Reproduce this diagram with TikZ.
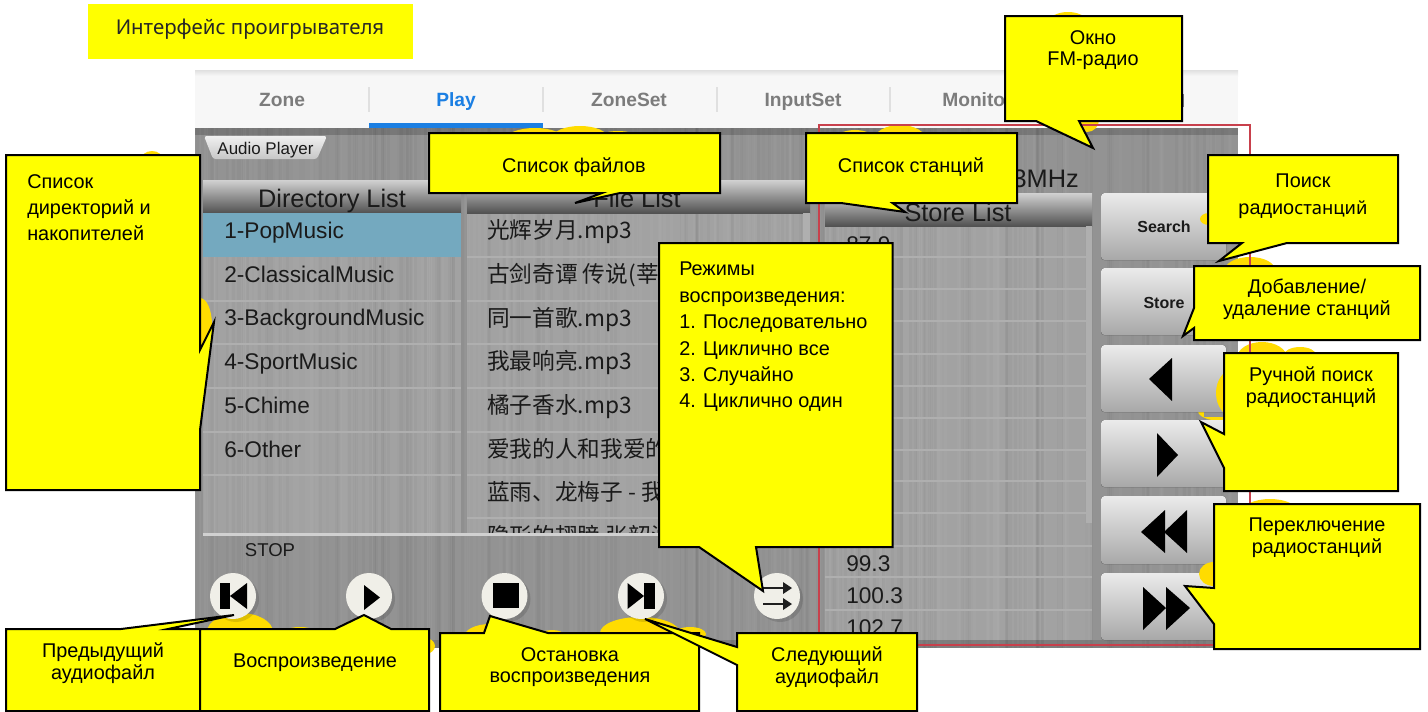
\documentclass[tikz,border=0pt]{standalone}
\usepackage{fontspec}
\setmainfont{Liberation Sans}
\newfontfamily\cjk{Noto Sans CJK SC}
\newfontfamily\thinfont{Noto Sans}
\definecolor{cyellow}{RGB}{255,255,0}
\definecolor{gold}{RGB}{255,220,0}
\definecolor{metal}{HTML}{939393}
\definecolor{listgrey}{HTML}{A2A2A2}
\definecolor{rowline}{HTML}{AFAFAF}
\definecolor{tabgrey}{HTML}{7C7C7C}
\definecolor{playblue}{HTML}{1B7FE3}
\definecolor{dark}{HTML}{1A1A1A}
\definecolor{selblue}{HTML}{74A9BF}
\definecolor{framered}{HTML}{C8404C}
\definecolor{btnface}{HTML}{F0EFE8}
\tikzset{
  x=0.75pt,y=-0.75pt,
  callout/.style={draw=black,line width=1.5pt,fill=cyellow,line join=miter},
  calltext/.style={inner sep=0,align=center,text=black,font=\fontsize{14.9}{16.3}\selectfont},
  tabtext/.style={inner sep=0,text=tabgrey,text height=10.3pt,text depth=0pt,font=\fontsize{14.4}{16}\selectfont\bfseries},
  listtext/.style={inner sep=0,anchor=west,text=dark,text height=12.2pt,text depth=0pt,font=\fontsize{17}{20}\selectfont},
  cjktext/.style={inner sep=0,anchor=west,text=dark,text height=12.2pt,text depth=0pt,font=\fontsize{17}{20}\selectfont\cjk},
  headtext/.style={inner sep=0,text=dark,text height=13.7pt,text depth=0pt,font=\fontsize{19}{22}\selectfont},
  header/.style={top color=black!18,bottom color=black!68},
  keybtn/.style={top color=black!8,bottom color=black!34,rounded corners=2.5pt},
  blob/.style={fill=gold},
  rowrule/.style={draw=rowline,line width=0.8pt},
  glyph/.style={fill=black},
}
\begin{document}
\begin{tikzpicture}
\useasboundingbox (0,0) rectangle (1428,711);
\fill[white] (0,0) rectangle (1428,711);
% title
\fill[cyellow] (88,4) rectangle (413,59);
\node[inner sep=0,text=black!85,text height=11pt,text depth=0pt,font=\fontsize{15.3}{18}\selectfont\thinfont] (title) at (250,27) {Интерфейс проигрывателя};
% application frame
\shade[top color=black!12,bottom color=black!3] (195,70) rectangle (1238,76);
\fill[black!3] (195,76) rectangle (1238,128);
\fill[metal] (195,128) rectangle (1238,648);
\fill[listgrey] (203,213) rectangle (461,533);
\fill[listgrey] (467,213) rectangle (810,533);
\fill[listgrey] (825,226) rectangle (1092,640);
\begin{scope}
  \clip (195,128) rectangle (1238,648);
  \pgfmathsetseed{11}
  \foreach \i in {1,...,170}{
    \pgfmathsetmacro\xx{195+rnd*1043}
    \fill[black,opacity=0.022] (\xx,128) rectangle (\xx+3,648);
  }
  \foreach \i in {1,...,170}{
    \pgfmathsetmacro\xx{195+rnd*1043}
    \fill[white,opacity=0.022] (\xx,128) rectangle (\xx+3,648);
  }
  \fill[black,opacity=0.18] (195,128) rectangle (1238,135);
  \fill[black,opacity=0.15] (195,640) rectangle (1238,648);
\end{scope}
% tabs
\fill[playblue] (369,123) rectangle (543,128);
\foreach \sx in {369,543,717,890}{\draw[black!12,line width=0.9pt] (\sx,87) -- (\sx,112);}
\node[tabtext] (tz) at (282,100) {Zone};
\node[tabtext,text=playblue] (tp) at (456,100) {Play};
\node[tabtext] (ts) at (629,100) {ZoneSet};
\node[tabtext] (ti) at (803,100) {InputSet};
\node[tabtext,anchor=west] (tm) at (942,100) {Monito};
\draw[tabgrey,line width=1pt] (1183,94) -- (1183,107);
% audio player tab
\shade[top color=black!6,bottom color=black!22,rounded corners=2pt] (204,136) -- (327,136) -- (317,159) -- (213,159) -- cycle;
\node[inner sep=0,text=dark,text height=9pt,text depth=0pt,font=\fontsize{12.7}{14}\selectfont] (ap) at (265.5,148) {Audio Player};
% list headers
\shade[header] (203,180) rectangle (461,213);
\shade[header] (467,180) rectangle (810,213);
\shade[header] (825,193) rectangle (1092,226);
\node[headtext] (hd) at (332,198) {Directory List};
\node[headtext] (hf) at (637,198) {File List};
\node[headtext] (hs) at (958,212) {Store List};
\node[headtext,anchor=east] (fm) at (1079,178) {3MHz};
\fill[selblue] (203,213) rectangle (461,257);
\foreach \ry in {301,344,388,432,475}{\draw[rowrule] (203,\ry) -- (461,\ry);}
\foreach \ry in {257,301,344,388,432,475,518}{\draw[rowrule] (467,\ry) -- (803,\ry);}
\fill[rowline] (803,213) rectangle (810,533);
\node[listtext] (d1) at (224,230) {1-PopMusic};
\node[listtext] (d2) at (224,274) {2-ClassicalMusic};
\node[listtext] (d3) at (224,317) {3-BackgroundMusic};
\node[listtext] (d4) at (224,361) {4-SportMusic};
\node[listtext] (d5) at (224,405) {5-Chime};
\node[listtext] (d6) at (224,449) {6-Other};
\node[cjktext] (f1) at (487,230) {光辉岁月.mp3};
\node[cjktext] (f2) at (487,274) {古剑奇谭 传说(莘};
\node[cjktext] (f3) at (487,318) {同一首歌.mp3};
\node[cjktext] (f4) at (487,361) {我最响亮.mp3};
\node[cjktext] (f5) at (487,405) {橘子香水.mp3};
\node[cjktext] (f6) at (487,449) {爱我的人和我爱的};
\node[cjktext] (f7) at (487,492) {蓝雨、龙梅子 - 我};
\begin{scope}
  \clip (467,520) rectangle (810,532);
  \node[cjktext] (f8) at (487,536) {隐形的翅膀 张韶涵};
\end{scope}
\fill[black!18] (203,533) rectangle (810,536);
\node[inner sep=0,text=dark,text height=10pt,text depth=0pt,font=\fontsize{13.9}{15}\selectfont] (stop) at (270,550) {STOP};
% store list
\foreach \ry in {257,289,321,354,386,418,450,481,513,546,577,610}{\draw[rowrule] (825,\ry) -- (1092,\ry);}
\fill[rowline] (1086,226) rectangle (1092,523);
\node[listtext] (s0) at (846,244) {87.9};
\node[listtext] (s1) at (846,563) {99.3};
\node[listtext] (s2) at (846,595) {100.3};
\node[listtext] (s3) at (846,627) {102.7};
% crescent that lies behind the third and fourth side buttons
\fill[blob] (1222,411) ellipse (24 and 10);
\fill[metal] (1204,412) rectangle (1226,417);
% side buttons
\fill[keybtn] (1101,193) rectangle (1226,260);
\fill[keybtn] (1101,268) rectangle (1226,335);
\fill[keybtn] (1101,345) rectangle (1226,412);
\fill[keybtn] (1101,420) rectangle (1226,487);
\fill[keybtn] (1101,496) rectangle (1226,564);
\fill[keybtn] (1101,573) rectangle (1226,640);
\node[inner sep=0,text=dark,font=\fontsize{12}{14}\selectfont\bfseries] (bs) at (1164,227) {Search};
\node[inner sep=0,text=dark,font=\fontsize{12}{14}\selectfont\bfseries] (bt) at (1164,303) {Store};
% gold blobs behind the callouts
\fill[blob] (152,160) ellipse (11 and 9);
\fill[blob] (200,325) ellipse (12 and 27);
\fill[blob] (535,140) ellipse (30 and 12);
\fill[blob] (580,138) ellipse (28 and 12);
\fill[blob] (618,138) ellipse (20 and 7);
\fill[blob] (1068,22) ellipse (19 and 10);
\fill[blob] (1087,120) ellipse (12 and 12);
\fill[blob] (855,138) ellipse (18 and 8);
\fill[blob] (900,140) ellipse (26 and 15);
\fill[blob] (1209,219) ellipse (9 and 6);
\fill[blob] (1250,270) ellipse (25 and 13);
\fill[blob] (1262,358) ellipse (25 and 16);
\fill[blob] (1300,355) ellipse (16 and 8);
\fill[blob] (1234,393) ellipse (18 and 24);
\fill[blob] (1270,512) ellipse (28 and 13);
\fill[blob] (1214,574) ellipse (15 and 12);
\fill[blob] (240,632) ellipse (33 and 19);
\fill[blob] (300,630) ellipse (12 and 3);
\fill[blob] (425,646) ellipse (10 and 8);
\fill[blob] (490,637) ellipse (26 and 13);
\fill[blob] (552,635) ellipse (12 and 5);
\fill[blob] (640,633) ellipse (40 and 16);
\fill[blob] (690,634) ellipse (16 and 7);
% button glyphs
\fill[glyph] (1149,379) -- (1172,358) -- (1172,401) -- cycle;
\fill[glyph] (1178,455) -- (1157,433) -- (1157,477) -- cycle;
\fill[glyph] (1141,532) -- (1165,510) -- (1165,553) -- cycle;
\fill[glyph] (1164,532) -- (1187,510) -- (1187,553) -- cycle;
\fill[glyph] (1166,608) -- (1143,587) -- (1143,630) -- cycle;
\fill[glyph] (1190,608) -- (1166,587) -- (1166,630) -- cycle;
% round buttons
\foreach \bx in {233,369,504.5,641,777}{
  \fill[black,opacity=0.13] (\bx+3,599) ellipse (23 and 23);
  \fill[btnface] (\bx,596) ellipse (23 and 23);
}
\fill[glyph] (219.5,583) rectangle (230,609);
\fill[glyph] (230,596) -- (247,583) -- (247,609) -- cycle;
\fill[glyph] (380,597.5) -- (364,585) -- (364,610) -- cycle;
\fill[glyph] (493,583) rectangle (519,608);
\fill[glyph] (644,596) -- (627.5,583) -- (627.5,609) -- cycle;
\fill[glyph] (644,583) rectangle (655,609);
\draw[black!88,line width=2.2pt] (763,588) -- (787,588);
\draw[black!88,line width=2.2pt] (763,604) -- (787,604);
\fill[black!88] (792,588) -- (783,582) -- (783,594) -- cycle;
\fill[black!88] (792,604) -- (783,598) -- (783,610) -- cycle;
% red frame
\draw[framered,line width=0.8pt] (819,125) rectangle (1250,645);
% callouts
\draw[callout] (6,155) -- (200,155) -- (200,350) -- (214,322) -- (200,430) -- (200,490) -- (6,490) -- cycle;
\draw[callout] (429,133) -- (720,133) -- (720,193) -- (620,193) -- (575,203) -- (602,193) -- (429,193) -- cycle;
\draw[callout] (806,133) -- (1017,133) -- (1017,203) -- (892.5,203) -- (905,212) -- (841,203) -- (806,203) -- cycle;
\draw[callout] (1005,16) -- (1182,16) -- (1182,121) -- (1079,121) -- (1093,148) -- (1036,121) -- (1005,121) -- cycle;
\draw[callout] (1208,155) -- (1398,155) -- (1398,243) -- (1287,243) -- (1219,261) -- (1242,243) -- (1208,243) -- cycle;
\draw[callout] (1194,266) -- (1420,266) -- (1420,340) -- (1194,340) -- (1194,328) -- (1183,336) -- (1194,308) -- cycle;
\draw[callout] (1224,353) -- (1398,353) -- (1398,491) -- (1224,491) -- (1224,468) -- (1201,422) -- (1224,434) -- cycle;
\draw[callout] (1214,504) -- (1420,504) -- (1420,649) -- (1214,649) -- (1214,624) -- (1185,586) -- (1214,588) -- cycle;
\draw[callout] (659,243) -- (892.5,243) -- (892.5,547) -- (756,547) -- (763,591) -- (699,547) -- (659,547) -- cycle;
\draw[callout] (6,629) -- (121,629) -- (234,615) -- (168,629) -- (200,629) -- (200,711) -- (6,711) -- cycle;
\draw[callout] (200,629) -- (335,629) -- (364,615) -- (391,629) -- (429,629) -- (429,711) -- (200,711) -- cycle;
\draw[callout] (440,633) -- (484,633) -- (490,616) -- (548,633) -- (699,633) -- (699,711) -- (440,711) -- cycle;
\draw[callout] (737,633) -- (917,633) -- (917,711) -- (737,711) -- (737,665) -- (645,619) -- (737,647) -- cycle;
% callout texts
\node[calltext,align=left,anchor=north west,font=\fontsize{14.9}{19.5}\selectfont] (c1) at (27,174) {Список\\директорий и\\накопителей};
\node[calltext] (c2) at (574,167) {Список файлов};
\node[calltext] (c3) at (911,167) {Список станций};
\node[calltext] (c4) at (1093,50) {Окно\\FM-радио};
\node[calltext,font=\fontsize{14.9}{20.2}\selectfont] (c5) at (1303,196) {Поиск\\радио{\thinfont\fontsize{13.8}{20.2}\selectfont станций}};
\node[calltext] (c6) at (1307,299) {Добавление/\\удаление станций};
\node[calltext] (c7) at (1311,387) {Ручной поиск\\радиостанций};
\node[calltext] (c8) at (1317,538) {Переключение\\радиостанций};
\node[calltext,align=left,anchor=north west,font=\fontsize{14.9}{19.8}\selectfont] (c9) at (679,262) {Режимы\\воспроизведения:\\1. Последовательно\\2. Циклично все\\3. Случайно\\4. Циклично один};
\node[calltext] (c10) at (103,663) {Предыдущий\\аудиофайл};
\node[calltext] (c11) at (315,663) {Воспроизведение};
\node[calltext] (c12) at (570,667) {Остановка\\воспроизведения};
\node[calltext] (c13) at (827,667) {Следующий\\аудиофайл};
\end{tikzpicture}
\end{document}
